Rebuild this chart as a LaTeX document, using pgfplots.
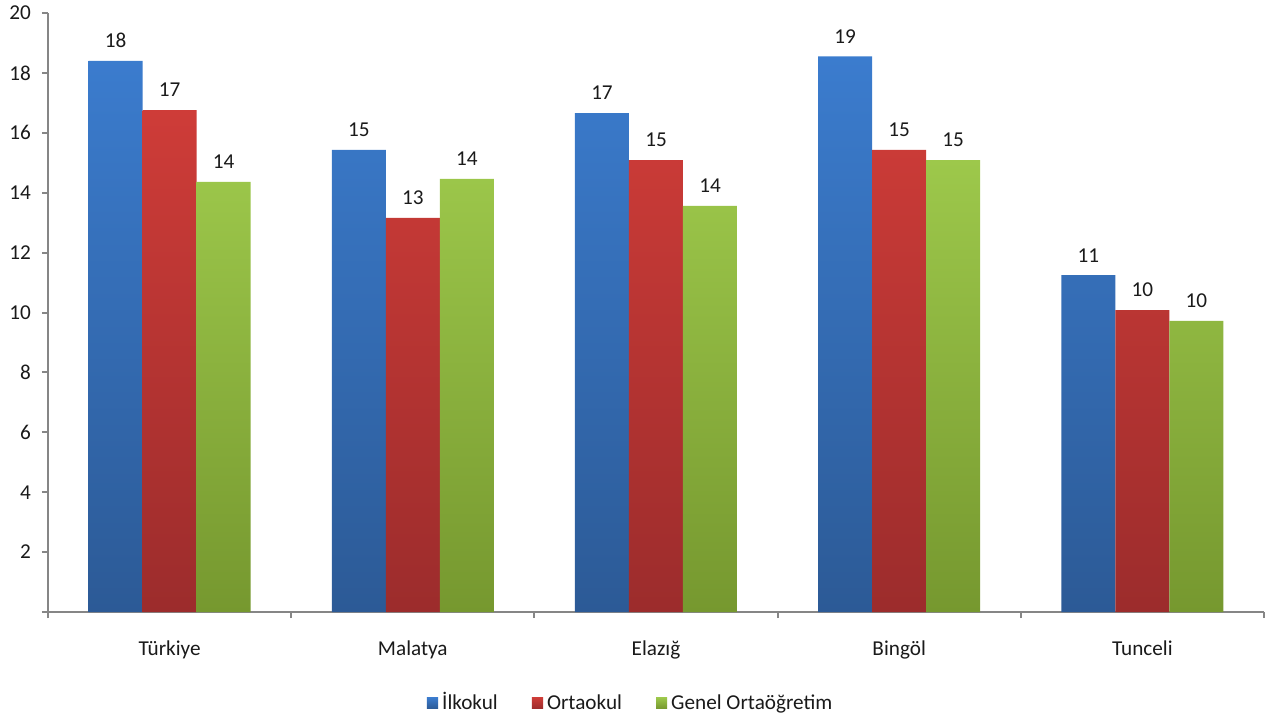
\documentclass[border=0pt]{standalone}
\usepackage{pgfplots}
\pgfplotsset{compat=1.18}
\usepackage{fontspec}
\setmainfont{Carlito}
\definecolor{bT}{HTML}{3B7CCE}
\definecolor{bB}{HTML}{2C5A96}
\definecolor{bM}{HTML}{3570BA}
\definecolor{rT}{HTML}{CE3C38}
\definecolor{rB}{HTML}{9C2C2C}
\definecolor{rM}{HTML}{BE3533}
\definecolor{gT}{HTML}{9DC84B}
\definecolor{gB}{HTML}{76982F}
\definecolor{gM}{HTML}{8DB83F}
\definecolor{axgray}{HTML}{868686}
\definecolor{txt}{HTML}{1A1A1A}
\begin{document}
\begin{tikzpicture}
\begin{axis}[
  scale only axis, width=608pt, height=299.5pt,
  xmin=-0.5, xmax=4.5, ymin=0, ymax=20,
  ybar=0pt, bar width=27pt,
  axis x line*=bottom, axis y line*=left,
  axis line style={draw=axgray, line width=1pt},
  tick align=outside,
  xtick={0,1,2,3,4},
  xticklabels={Türkiye,Malatya,Elazığ,Bingöl,Tunceli},
  major x tick style={draw=none},
  minor xtick={-0.5,0.5,1.5,2.5,3.5,4.5},
  minor x tick style={draw=axgray, line width=1pt},
  minor tick length=3pt,
  ytick={0,2,4,6,8,10,12,14,16,18,20},
  yticklabels={,2,4,6,8,10,12,14,16,18,20},
  major y tick style={draw=axgray, line width=1pt},
  major tick length=3pt,
  tick label style={font=\fontsize{10.6}{12}\selectfont, text=txt},
  xticklabel style={yshift=-8pt},
  yticklabel style={xshift=-2pt},
  nodes near coords,
  nodes near coords style={font=\fontsize{10.6}{12}\selectfont, text=txt, yshift=3pt,
    /pgf/number format/.cd, fixed, precision=0, assume math mode=true},
  legend columns=3,
  legend style={draw=none, at={(0.48,0)}, anchor=center, yshift=-45.5pt,
    font=\fontsize{10.6}{12}\selectfont, text=txt,
    nodes={text height=1.9ex, text depth=0.5ex},
    /tikz/every even column/.append style={column sep=15pt}},
]
\addplot[draw=none, top color=bT, bottom color=bB,
  legend image code/.code={\fill[bM] (0pt,-2.8pt) rectangle (5.6pt,2.8pt);}]
  coordinates {(0,18.4) (1,15.43) (2,16.66) (3,18.55) (4,11.25)};
\addplot[draw=none, top color=rT, bottom color=rB,
  legend image code/.code={\fill[rM] (0pt,-2.8pt) rectangle (5.6pt,2.8pt);}]
  coordinates {(0,16.76) (1,13.16) (2,15.09) (3,15.43) (4,10.08)};
\addplot[draw=none, top color=gT, bottom color=gB,
  legend image code/.code={\fill[gM] (0pt,-2.8pt) rectangle (5.6pt,2.8pt);}]
  coordinates {(0,14.36) (1,14.46) (2,13.56) (3,15.09) (4,9.72)};
\legend{İlkokul,Ortaokul,Genel Ortaöğretim}
\end{axis}
\pgfresetboundingbox
\path ([shift={(-24pt,-56.5pt)}]current axis.south west) rectangle ++(635.5pt,362.5pt);
\end{tikzpicture}
\end{document}
